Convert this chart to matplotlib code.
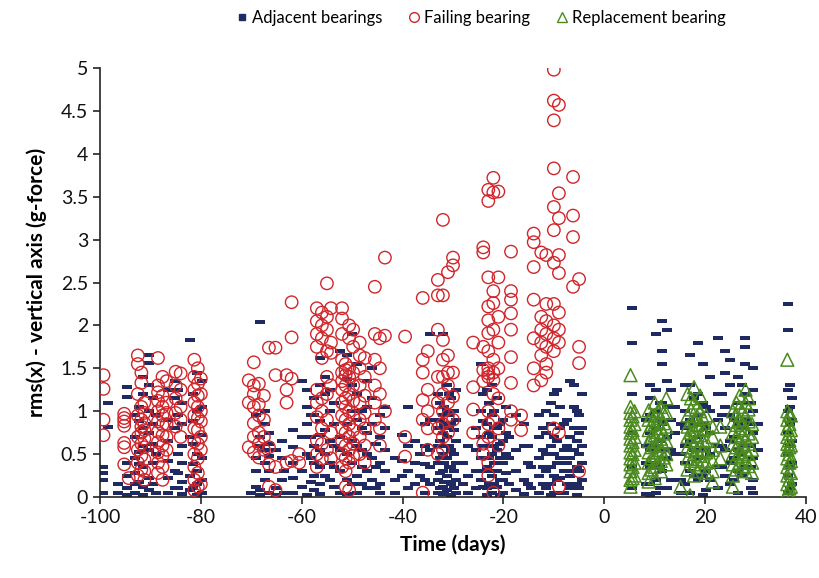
import matplotlib
matplotlib.use("Agg")
import matplotlib.pyplot as plt
from matplotlib.lines import Line2D

# ---------------- data ----------------
adj_days = [-99.5, -98.4, -96.5, -94.6, -93.0, -91.5, -90.2, -88.8, -86.5, -85.2, -83.8, -82.2, -80.8, -79.8,
            -70.0, -68.3, -67.3, -66.5, -65.0, -63.5, -61.7, -60.0, -59.0, -57.5, -56.3, -55.3, -54.3,
            -52.5, -51.0, -50.0, -49.0, -47.0, -46.0, -44.5, -43.5, -41.5, -39.0, -37.5, -36.5,
            -34.5, -33.0, -32.0, -31.2, -30.3, -29.5, -28.0, -25.5, -24.5, -23.3, -22.3, -21.3, -20.0,
            -18.8, -17.5, -16.0, -14.5, -13.0, -11.5, -10.5, -9.3, -8.0, -6.7, -5.5, -4.5,
            5.5, 9.0, 10.3, 11.5, 12.5, 14.0, 16.0, 17.0, 18.5, 19.5, 21.0, 22.5, 24.0, 25.0, 26.5,
            28.0, 29.5, 30.5, 36.5, 37.3,
            # second reading of the denser lower band
            -92.2, -89.5, -84.5, -81.5, -69.0, -64.0, -58.2, -53.5, -48.0, -45.2, -40.2, -35.5,
            -32.6, -31.7, -30.8, -29.9, -27.0, -24.0, -22.8, -21.8, -20.7, -19.4, -15.2, -12.2,
            -10.0, -8.7, -7.3, -6.1, -5.0,
            8.3, 11.0, 13.2, 15.3, 17.8, 20.2, 23.3, 25.8, 27.3, 29.0, 36.8]
adj_vals = [[0.35, 0.28, 0.20, 0.05], [1.10, 0.82], [0.15, 0.05], [1.28, 1.17, 0.40, 0.25, 0.10, 0.02],
            [0.95, 0.70, 0.45, 0.28, 0.15, 0.05], [1.40, 1.20, 0.80, 0.60, 0.35, 0.12, 0.02],
            [1.65, 1.56, 1.30, 1.00, 0.75, 0.55, 0.22, 0.08], [0.95, 0.50, 0.05],
            [1.25, 0.90, 0.65, 0.42, 0.22, 0.05], [1.35, 1.15, 0.80, 0.30, 0.10],
            [1.10, 0.85, 0.60, 0.40, 0.18, 0.04], [1.83, 0.70, 0.25, 0.08],
            [1.45, 1.00, 0.50, 0.30, 0.15, 0.02], [1.35, 1.05, 0.72, 0.45, 0.20, 0.05],
            [0.05], [2.04, 0.70, 0.60, 0.08, 0.02], [1.00, 0.85, 0.55, 0.40, 0.20],
            [0.75, 0.62, 0.48, 0.30, 0.05], [0.55, 0.10, 0.02], [0.30, 0.05],
            [0.78, 0.58, 0.40, 0.22, 0.05], [1.35, 0.70, 0.30, 0.12], [1.25, 1.05, 0.85, 0.50, 0.02],
            [1.15, 0.95, 0.60, 0.40, 0.25, 0.08], [1.62, 1.30, 0.88, 0.72, 0.55, 0.35, 0.15, 0.04],
            [1.40, 1.20, 0.78, 0.50, 0.25], [1.25, 1.00, 0.65, 0.40, 0.20],
            [1.70, 0.70, 0.55, 0.30, 0.05], [1.65, 1.38, 0.85, 0.50, 0.20, 0.03],
            [1.90, 1.30, 1.00, 0.65, 0.40, 0.15], [1.55, 1.20, 0.90, 0.60, 0.25, 0.05],
            [1.35, 1.05, 0.75, 0.50, 0.30, 0.10], [1.50, 1.15, 0.85, 0.45, 0.20],
            [0.95, 0.70, 0.40, 0.15, 0.05], [1.05, 0.80, 0.55, 0.30], [0.45, 0.20, 0.05],
            [1.05, 0.60, 0.30, 0.10], [0.65, 0.40, 0.15], [0.50, 0.25],
            [1.90, 0.90, 0.55, 0.35, 0.15], [1.20, 0.80, 0.60, 0.40, 0.20, 0.05],
            [1.90, 0.95, 0.75, 0.50, 0.30, 0.12, 0.03], [1.30, 1.00, 0.70, 0.45, 0.25, 0.08],
            [1.15, 0.85, 0.55, 0.35, 0.15, 0.02], [1.25, 0.90, 0.65, 0.40, 0.20, 0.05], [0.40, 0.15],
            [0.80, 0.55, 0.30, 0.10], [1.55, 1.00, 0.70, 0.45, 0.20], [1.25, 0.85, 0.60, 0.35, 0.10, 0.02],
            [1.30, 0.95, 0.70, 0.50, 0.25, 0.05], [1.15, 0.80, 0.55, 0.30, 0.12],
            [0.90, 0.65, 0.40, 0.20, 0.05], [0.70, 0.45, 0.15], [0.95, 0.55, 0.30, 0.08],
            [0.85, 0.60, 0.20, 0.03], [0.35, 0.10], [0.95, 0.70, 0.45, 0.25, 0.05],
            [1.00, 0.75, 0.50, 0.30, 0.10], [1.10, 0.85, 0.60, 0.35, 0.15, 0.02], [1.25, 0.65, 0.40, 0.20],
            [0.85, 0.55, 0.30, 0.05], [1.35, 0.70, 0.45, 0.25, 0.10], [1.00, 0.65, 0.35, 0.15, 0.02],
            [1.20, 0.80, 0.60, 0.40, 0.20],
            [2.20, 1.80, 1.20, 0.75, 0.35, 0.10], [1.30, 1.15, 0.95, 0.75, 0.55, 0.35, 0.15, 0.02],
            [1.90, 1.25, 1.00, 0.80, 0.60, 0.40, 0.20, 0.05], [2.05, 1.70, 1.55, 1.10, 0.85, 0.55, 0.30],
            [1.95, 1.35, 1.05, 0.70, 0.45, 0.10], [1.05, 0.75, 0.50, 0.20],
            [1.30, 1.00, 0.80, 0.60, 0.40, 0.15], [1.65, 1.30, 0.90, 0.65, 0.30, 0.05],
            [1.80, 1.20, 0.95, 0.70, 0.45, 0.20], [1.55, 1.10, 0.85, 0.55, 0.25, 0.02],
            [1.40, 1.00, 0.75, 0.50, 0.20], [1.85, 1.20, 0.90, 0.60, 0.35, 0.10],
            [1.70, 1.45, 1.05, 0.80, 0.55, 0.25], [1.60, 1.30, 0.95, 0.65, 0.40, 0.15],
            [1.40, 1.10, 0.85, 0.55, 0.30, 0.05], [1.85, 1.75, 1.55, 1.20, 0.90, 0.60, 0.35],
            [1.50, 1.25, 1.00, 0.75, 0.45, 0.20, 0.05], [0.85, 0.55],
            [2.25, 1.95, 1.25, 1.00, 0.75, 0.50, 0.25, 0.05], [1.15, 0.90, 0.65, 0.40, 0.15],
            [1.05, 0.88, 0.52, 0.38, 0.18], [1.15, 0.85, 0.62, 0.40, 0.15], [1.25, 0.95, 0.50, 0.28, 0.10],
            [1.20, 0.88, 0.62, 0.38, 0.10], [0.95, 0.45, 0.30, 0.12], [0.65, 0.45, 0.20],
            [0.95, 0.70, 0.45, 0.18], [1.10, 0.85, 0.60, 0.35, 0.12], [1.00, 0.80, 0.55, 0.35, 0.15],
            [0.62, 0.35, 0.10], [0.72, 0.42, 0.25], [0.85, 0.60, 0.38, 0.20, 0.05],
            [1.10, 0.90, 0.65, 0.45, 0.28, 0.10], [1.05, 0.85, 0.60, 0.40, 0.18, 0.05],
            [1.20, 0.95, 0.80, 0.60, 0.35, 0.18], [1.00, 0.78, 0.50, 0.30, 0.10], [0.60, 0.25, 0.05],
            [1.20, 0.88, 0.60, 0.30, 0.12], [1.10, 0.75, 0.45, 0.30, 0.15], [1.00, 0.80, 0.60, 0.40, 0.15],
            [0.85, 0.62, 0.45, 0.20, 0.02], [1.05, 0.75, 0.50, 0.28], [0.60, 0.40, 0.15],
            [0.80, 0.55, 0.35, 0.15], [1.20, 0.95, 0.70, 0.50, 0.25, 0.05], [1.05, 0.80, 0.45, 0.22],
            [0.90, 0.60, 0.40, 0.15], [1.30, 1.05, 0.80, 0.55, 0.30], [0.95, 0.75, 0.50, 0.30, 0.10],
            [0.90, 0.60, 0.40, 0.15, 0.03], [1.10, 0.88, 0.65, 0.35, 0.10], [1.25, 0.90, 0.55, 0.20],
            [0.85, 0.50, 0.20, 0.05], [1.15, 0.85, 0.55, 0.25], [1.05, 0.80, 0.55, 0.30, 0.08],
            [1.20, 0.95, 0.60, 0.35], [0.90, 0.70, 0.45, 0.20], [1.30, 1.10, 0.80, 0.50, 0.25],
            [1.10, 0.85, 0.60, 0.35, 0.10], [1.30, 1.05, 0.85, 0.60, 0.35, 0.10]]

fail_days = [-99.3, -95.2, -94.3, -92.5, -91.8, -91.2, -88.5, -87.6, -86.8, -85.0, -84.0, -81.3, -80.6, -80.0,
             -70.5, -69.5, -68.5, -67.5, -66.5, -65.2, -63.0, -62.0, -60.5, -57.0, -56.0, -55.0, -54.2,
             -52.0, -51.3, -50.6, -49.8, -48.5, -47.5, -45.5, -44.5, -43.5, -39.5, -36.0, -35.0,
             -33.0, -32.0, -31.0, -30.0, -26.0, -24.0, -23.0, -22.0, -21.0, -18.5, -16.5,
             -14.0, -12.5, -11.5, -10.0, -9.0, -6.2, -5.0]
fail_vals = [[1.42, 1.26, 0.90, 0.72], [0.97, 0.92, 0.88, 0.83, 0.63, 0.58, 0.38], [0.22],
             [1.65, 1.55, 1.20, 0.95, 0.70, 0.55, 0.40, 0.25],
             [1.45, 1.33, 1.05, 0.90, 0.82, 0.75, 0.62, 0.48, 0.32],
             [1.10, 0.98, 0.86, 0.78, 0.68, 0.58, 0.44, 0.30, 0.20],
             [1.62, 1.30, 1.22, 1.12, 1.00, 0.88, 0.76, 0.64, 0.52, 0.40, 0.28],
             [1.40, 1.18, 1.05, 0.95, 0.84, 0.72, 0.60, 0.48, 0.35, 0.20],
             [1.35, 1.10, 0.98, 0.85, 0.70, 0.55], [1.46, 1.30, 1.15, 0.98, 0.82],
             [1.44, 1.25, 1.05, 0.90, 0.70],
             [1.60, 1.40, 1.25, 1.10, 0.95, 0.80, 0.65, 0.50, 0.35, 0.20, 0.08],
             [1.50, 1.32, 1.18, 1.05, 0.92, 0.78, 0.62, 0.45, 0.28, 0.12],
             [1.38, 1.20, 1.00, 0.88, 0.70, 0.55, 0.15],
             [1.36, 1.10, 0.58], [1.57, 1.30, 1.20, 1.05, 0.86, 0.70, 0.52],
             [1.32, 1.08, 0.95, 0.75, 0.62, 0.46], [1.18, 0.90, 0.70, 0.55], [1.74, 0.58, 0.38, 0.12],
             [1.74, 1.42, 0.35, 0.08], [1.42, 1.25, 1.10, 0.40], [2.27, 1.86, 1.38, 0.42], [0.50, 0.40],
             [2.20, 2.05, 1.90, 1.75, 1.25, 1.10, 0.93, 0.66, 0.50, 0.35],
             [2.15, 2.00, 1.85, 1.62, 1.15, 1.00, 0.80, 0.62, 0.45],
             [2.49, 2.10, 1.95, 1.70, 1.40, 1.20, 0.90, 0.55], [2.20, 1.80, 1.68, 1.30, 0.75, 0.45],
             [2.20, 2.08, 1.90, 1.60, 1.45, 1.35, 1.25, 1.10, 0.95, 0.80, 0.65, 0.50, 0.35],
             [1.55, 1.48, 1.42, 1.30, 1.15, 1.05, 0.90, 0.75, 0.60, 0.45, 0.30, 0.12],
             [2.00, 1.85, 1.50, 1.40, 1.20, 1.00, 0.85, 0.70, 0.55, 0.40, 0.08],
             [1.95, 1.75, 1.45, 1.30, 1.12, 0.95, 0.78, 0.62, 0.48],
             [1.80, 1.65, 1.50, 1.30, 1.10, 0.90, 0.70, 0.50],
             [1.62, 1.40, 1.18, 0.98, 0.80, 0.60, 0.40],
             [2.45, 1.90, 1.60, 1.30, 1.10, 0.90], [1.85, 1.50, 1.20, 0.80, 0.60], [2.79, 1.88, 1.00],
             [1.87, 0.70, 0.47], [2.32, 1.60, 1.45, 1.13, 0.90, 0.05], [1.70, 1.25, 1.00, 0.80, 0.55],
             [2.35, 2.53, 1.95, 1.40, 1.10, 0.80, 0.50],
             [3.23, 2.35, 1.83, 1.60, 1.40, 1.20, 1.00, 0.85, 0.70, 0.55],
             [2.62, 1.65, 1.45, 1.30, 1.10, 0.95, 0.75], [2.79, 2.70, 1.45, 1.17, 0.90],
             [1.80, 1.28, 1.02, 0.75], [2.91, 2.85, 1.75, 1.48, 1.35, 0.62, 0.50],
             [3.58, 3.45, 2.56, 2.22, 2.06, 1.91, 1.70, 1.50, 1.44, 1.40, 1.00, 0.85, 0.70, 0.40, 0.25],
             [3.72, 3.55, 2.40, 2.26, 1.95, 1.60, 1.45, 1.36, 1.20, 0.90, 0.05],
             [3.56, 2.56, 2.10, 1.80, 1.50, 1.15, 0.80, 0.60],
             [2.86, 2.40, 2.30, 2.14, 1.95, 1.63, 1.33, 1.00, 0.90], [0.78, 0.95],
             [3.07, 2.97, 2.68, 2.30, 1.85, 1.50, 1.30], [2.85, 2.10, 1.95, 1.80, 1.65, 1.36],
             [2.82, 2.25, 2.05, 1.90, 1.75, 1.55, 1.45],
             [4.98, 4.62, 4.39, 3.83, 3.38, 3.11, 2.73, 2.25, 2.00, 1.85, 1.70, 0.80],
             [4.57, 3.54, 3.25, 2.82, 2.61, 2.15, 1.95, 1.80, 0.75, 0.12],
             [3.73, 3.28, 3.03, 2.45], [2.54, 1.75, 1.56, 0.30]]

repl_days = [5.2, 6.0, 8.8, 10.0, 11.2, 12.3, 15.1, 17.0, 16.5, 17.8, 19.0, 20.2, 21.5, 23.0,
             25.5, 26.8, 28.0, 29.3, 36.3, 37.0,
             5.6, 9.4, 10.6, 11.8, 17.2, 18.4, 19.6, 26.2, 27.4, 28.6, 36.7]
repl_vals = [[1.42, 1.05, 0.98, 0.90, 0.82, 0.75, 0.68, 0.60, 0.52, 0.45, 0.38, 0.30, 0.20, 0.12],
             [1.00, 0.85, 0.70, 0.55, 0.40, 0.25], [1.01, 0.90, 0.78, 0.65, 0.52, 0.40, 0.28, 0.18],
             [1.10, 0.95, 0.85, 0.72, 0.60, 0.48, 0.35, 0.22], [1.05, 0.92, 0.80, 0.68, 0.55, 0.42, 0.30],
             [1.15, 0.98, 0.82, 0.65, 0.50, 0.38], [0.12], [0.02],
             [1.20, 0.95, 0.82, 0.70, 0.58, 0.45, 0.32], [1.28, 1.10, 0.90, 0.78, 0.62, 0.50, 0.38, 0.25],
             [1.18, 1.00, 0.85, 0.72, 0.60, 0.48, 0.35], [0.95, 0.80, 0.65, 0.52, 0.40, 0.28],
             [0.82, 0.70, 0.55, 0.42, 0.30, 0.18], [0.82, 0.60, 0.45],
             [1.00, 0.88, 0.75, 0.62, 0.50, 0.38, 0.25, 0.12], [1.18, 1.05, 0.90, 0.78, 0.65, 0.52, 0.40],
             [1.25, 1.10, 0.95, 0.80, 0.68, 0.55, 0.42, 0.30], [0.85, 0.70, 0.55, 0.40, 0.28],
             [1.60, 1.00, 0.90, 0.80, 0.70, 0.62, 0.55, 0.45, 0.35, 0.25, 0.15, 0.05],
             [0.95, 0.78, 0.60, 0.42, 0.28, 0.12, 0.00],
             [0.94, 0.78, 0.64, 0.50, 0.35, 0.22], [0.95, 0.84, 0.70, 0.58, 0.45, 0.32],
             [1.00, 0.88, 0.76, 0.64, 0.52, 0.40], [0.98, 0.86, 0.74, 0.60, 0.46],
             [1.15, 1.02, 0.88, 0.75, 0.66, 0.54, 0.42], [1.05, 0.94, 0.84, 0.70, 0.56, 0.44, 0.30],
             [0.92, 0.78, 0.66, 0.54, 0.42], [1.10, 0.96, 0.84, 0.70, 0.58, 0.46, 0.32],
             [1.00, 0.86, 0.72, 0.60, 0.48, 0.35], [1.15, 1.02, 0.88, 0.74, 0.62, 0.50, 0.36],
             [0.96, 0.85, 0.74, 0.66, 0.58, 0.50, 0.40, 0.30, 0.20, 0.10]]

x_ticks = [-100, -80, -60, -40, -20, 0, 20, 40]
y_ticks = [0, 0.5, 1, 1.5, 2, 2.5, 3, 3.5, 4, 4.5, 5]
y_tick_labels = ["0", "0.5", "1", "1.5", "2", "2.5", "3", "3.5", "4", "4.5", "5"]


def flatten(days, vals):
    xs, ys = [], []
    for d, vs in zip(days, vals):
        for v in vs:
            xs.append(d)
            ys.append(v)
    return xs, ys


ax_x, ax_y = flatten(adj_days, adj_vals)
fx, fy = flatten(fail_days, fail_vals)
rx, ry = flatten(repl_days, repl_vals)

plt.rcParams['font.family'] = ['Lato', 'DejaVu Sans']

fig = plt.figure(figsize=(8.19, 5.78), dpi=100)
ax = fig.add_axes([100 / 819, 81 / 578, 706 / 819, 429 / 578])

NAVY = "#1f2a63"
RED = "#d0262b"
GREEN = "#4a8a1e"

dash = [(-1, -0.42), (1, -0.42), (1, 0.42), (-1, 0.42), (-1, -0.42)]

ax.scatter(ax_x, ax_y, marker=dash, s=55, color=NAVY, linewidths=0, zorder=2)
ax.scatter(fx, fy, marker='o', s=80, facecolors='none', edgecolors=RED, linewidths=1.0, zorder=3)
ax.scatter(rx, ry, marker='^', s=85, facecolors='none', edgecolors=GREEN, linewidths=1.1, zorder=4)

ax.set_xlim(-100, 40)
ax.set_ylim(0, 5)
ax.set_xticks(x_ticks)
ax.set_xticklabels([str(t) for t in x_ticks])
ax.set_yticks(y_ticks)
ax.set_yticklabels(y_tick_labels)
for s in ['top', 'right']:
    ax.spines[s].set_visible(False)
for s in ['left', 'bottom']:
    ax.spines[s].set_color('#222222')
    ax.spines[s].set_linewidth(1.2)
ax.tick_params(axis='both', direction='out', length=5, width=1.1, labelsize=14, colors='#111111')
ax.set_xlabel("Time (days)", fontsize=15, fontweight='bold', labelpad=6)
ax.set_ylabel("rms(x) - vertical axis (g-force)", fontsize=15, fontweight='bold', labelpad=10)

handles = [
    Line2D([], [], linestyle='none', marker='s', markersize=4, color=NAVY),
    Line2D([], [], linestyle='none', marker='o', markersize=7, markerfacecolor='none',
           markeredgecolor=RED, markeredgewidth=1.0),
    Line2D([], [], linestyle='none', marker='^', markersize=7, markerfacecolor='none',
           markeredgecolor=GREEN, markeredgewidth=1.0),
]
fig.legend(handles, ["Adjacent bearings", "Failing bearing", "Replacement bearing"],
           loc='center', bbox_to_anchor=(480 / 819, 1 - 18 / 578), ncol=3, frameon=False,
           fontsize=12, handletextpad=0.1, columnspacing=1.4, handlelength=1.0)

fig.savefig("out.png", dpi=100)
